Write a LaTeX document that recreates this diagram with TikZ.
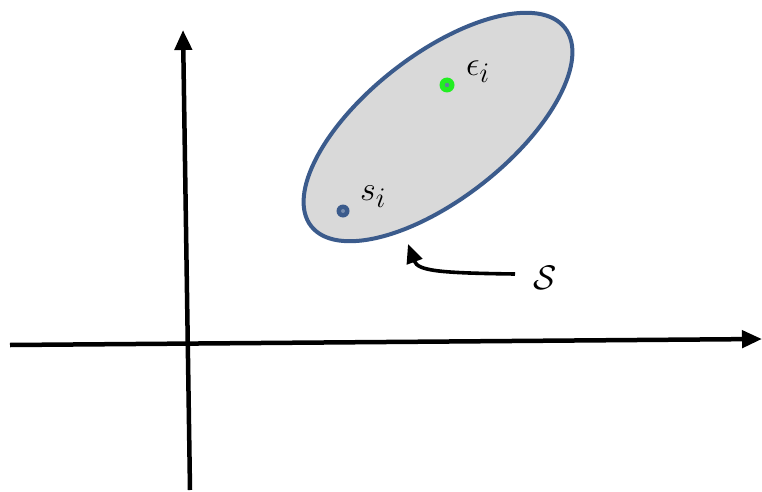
\documentclass[tikz,border=0pt]{standalone}
\usepackage{amsmath,amssymb}
\usepackage{tikz}
\usetikzlibrary{arrows.meta}
\definecolor{setblue}{HTML}{3B5B8C}
\definecolor{setgray}{HTML}{D9D9D9}
\definecolor{epsgreen}{HTML}{22EE22}
\tikzset{
  axisar/.style  = {-{Triangle[length=20pt,width=17pt]}, line width=4.5pt, black},
  setline/.style = {draw=setblue, line width=4pt, fill=setgray},
  ptlabel/.style = {inner sep=0pt, font=\Huge, scale=1.37},
  pointer/.style = {-{Triangle[length=19pt,width=16pt]}, line width=3.6pt, black}
}
\begin{document}
\begin{tikzpicture}[x=1pt,y=1pt]
  \useasboundingbox (0,0) rectangle (762,491);
  % axes
  \coordinate (xs) at (10,146);
  \coordinate (xe) at (762,152);
  \coordinate (ys) at (190,1);
  \coordinate (ye) at (183,461);
  \draw[axisar] (xs) -- (xe);
  \draw[axisar] (ys) -- (ye);
  % the set
  \draw[setline] (438,364) ellipse [x radius=161, y radius=72, rotate=38];
  \fill[setblue] (343,280) circle (6.5);
  \fill[setblue!70!white] (343,280) circle (2);
  \fill[epsgreen] (447,406) circle (7.5);
  \fill[setblue!80!white] (447,406) circle (2.2);
  \node[ptlabel] (si) at (373,294) {$s_i$};
  \node[ptlabel] (ei) at (478,419) {$\epsilon_i$};
  % pointer
  \node[ptlabel] (S) at (545,213) {$\mathcal{S}$};
  \coordinate (tip) at (408,247);
  \draw[pointer] (515,217) .. controls (440,218) and (418,220) .. (tip);
\end{tikzpicture}
\end{document}
